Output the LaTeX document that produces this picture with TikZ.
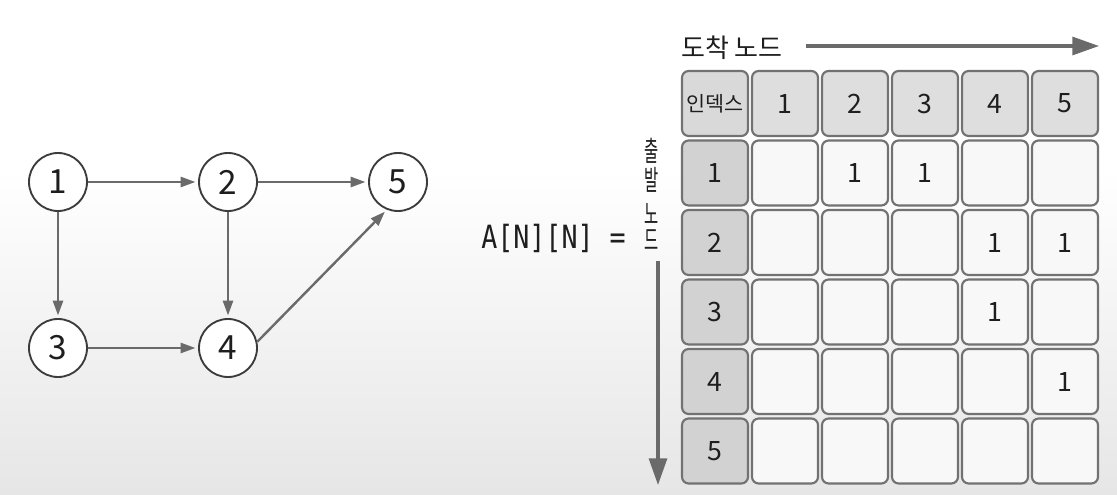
\documentclass[tikz,border=0pt]{standalone}
\usepackage{fontspec}
\setmainfont{Noto Sans CJK KR}
\newfontfamily\monofnt{DejaVu Sans Mono}
\usetikzlibrary{arrows.meta}
\definecolor{edgegray}{HTML}{6A6A6A}
\definecolor{circgray}{HTML}{3C3C3C}
\definecolor{cellline}{HTML}{727272}
\definecolor{headfill}{HTML}{DEDEDE}
\definecolor{sidefill}{HTML}{D2D2D2}
\definecolor{cornerfill}{HTML}{D9D9D9}
\definecolor{bodyfill}{HTML}{F8F8F8}
\definecolor{txt}{HTML}{1E1E1E}
\definecolor{bgbottom}{HTML}{E6E6E6}
\tikzset{
  gnode/.style={circle, draw=circgray, line width=1.4pt, fill=white, minimum size=43.5pt, inner sep=0pt, font=\fontsize{25}{25}\selectfont, text=txt},
  gedge/.style={draw=edgegray, line width=1.8pt, -{Triangle[length=11pt,width=7.5pt]}, shorten >=2pt},
  cell/.style={rounded corners=5pt, draw=cellline, line width=1.6pt, minimum width=49.5pt, minimum height=48.75pt, inner sep=0pt, font=\fontsize{20}{20}\selectfont, text=txt},
  headcell/.style={cell, fill=headfill},
  sidecell/.style={cell, fill=sidefill},
  bodycell/.style={cell, fill=bodyfill},
  valtext/.style={font=\fontsize{20}{20}\selectfont, text=txt},
  bigarrow/.style={draw=edgegray, line width=2.3pt, -{Triangle[length=20pt,width=13.5pt]}},
  vchar/.style={font=\fontsize{21}{21}\selectfont, text=txt, xscale=0.55, transform shape, inner sep=0pt},
}
\begin{document}
\begin{tikzpicture}[x=0.75pt,y=-0.75pt]
\useasboundingbox (0,0) rectangle (1117,495);
\fill[white] (0,0) rectangle (1117,170);
\shade[top color=white, bottom color=bgbottom] (0,170) rectangle (1117,495);

% graph
\node[gnode] (n1) at (58,182) {1};
\node[gnode] (n2) at (228,182) {2};
\node[gnode] (n5) at (398,182) {5};
\node[gnode] (n3) at (58,348) {3};
\node[gnode] (n4) at (228,348) {4};
\draw[gedge] (n1) -- (n2);
\draw[gedge] (n2) -- (n5);
\draw[gedge] (n1) -- (n3);
\draw[gedge] (n2) -- (n4);
\draw[gedge] (n3) -- (n4);
\draw[gedge] (n4.12) -- (n5.-112);

% A[N][N] =
\node[font=\monofnt\fontsize{20}{20}\selectfont, text=txt, yscale=1.2, transform shape, anchor=west, inner sep=0pt] (lbl) at (481,238) {A[N][N] =};

% top label and arrow
\node[font=\fontsize{19.5}{19.5}\selectfont, text=txt, anchor=west, inner sep=0pt] (dest) at (681,48) {도착 노드};
\coordinate (ha) at (806,46);
\coordinate (hb) at (1099,46);
\draw[bigarrow] (ha) -- (hb);

% vertical label and arrow
\node[vchar] (v1) at (652,151) {출};
\node[vchar] (v2) at (652,180) {발};
\node[vchar] (v3) at (652,214) {노};
\node[vchar] (v4) at (652,240) {드};
\coordinate (va) at (658,261);
\coordinate (vb) at (658,485);
\draw[bigarrow] (va) -- (vb);

% matrix
\node[cell, fill=cornerfill, font=\fontsize{15.5}{15.5}\selectfont] (c00) at (715,103.5) {인덱스};
\foreach \j in {1,...,5} {
  \node[headcell] (c0\j) at ({715+70*\j},103.5) {\j};
}
\foreach \i in {1,...,5} {
  \node[sidecell] (c\i0) at (715,{103.5+69.5*\i}) {\i};
  \foreach \j in {1,...,5} {
    \node[bodycell] (c\i\j) at ({715+70*\j},{103.5+69.5*\i}) {};
  }
}
\node[valtext] at (c12) {1};
\node[valtext] at (c13) {1};
\node[valtext] at (c24) {1};
\node[valtext] at (c25) {1};
\node[valtext] at (c34) {1};
\node[valtext] at (c45) {1};
\end{tikzpicture}
\end{document}
